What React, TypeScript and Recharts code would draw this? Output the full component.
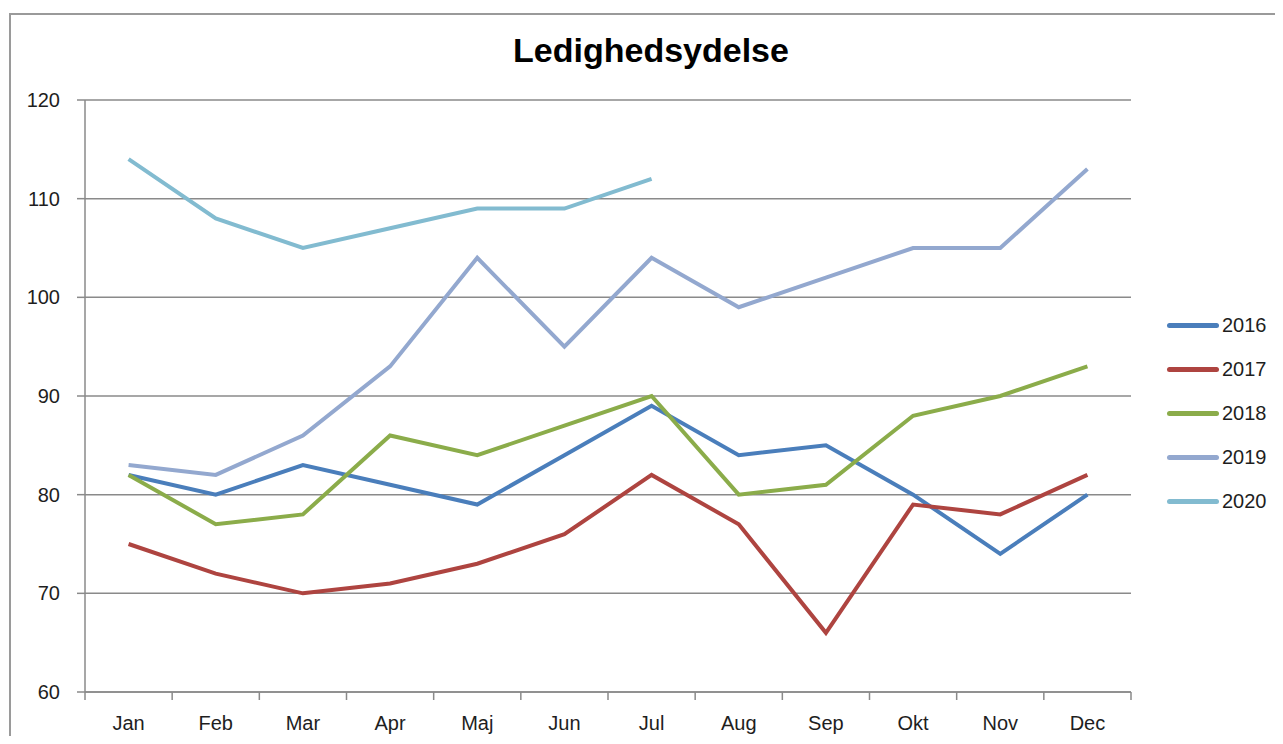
import { LineChart, Line, XAxis, YAxis, CartesianGrid } from 'recharts';

const MONTHS = ['Jan', 'Feb', 'Mar', 'Apr', 'Maj', 'Jun', 'Jul', 'Aug', 'Sep', 'Okt', 'Nov', 'Dec'];
const Y_TICKS = [60, 70, 80, 90, 100, 110, 120];

const V2016 = [82, 80, 83, 81, 79, 84, 89, 84, 85, 80, 74, 80];
const V2017 = [75, 72, 70, 71, 73, 76, 82, 77, 66, 79, 78, 82];
const V2018 = [82, 77, 78, 86, 84, 87, 90, 80, 81, 88, 90, 93];
const V2019 = [83, 82, 86, 93, 104, 95, 104, 99, 102, 105, 105, 113];
const V2020 = [114, 108, 105, 107, 109, 109, 112];

const SERIES = [
  { key: '2016', values: V2016, color: '#4A7EBB' },
  { key: '2017', values: V2017, color: '#AE4440' },
  { key: '2018', values: V2018, color: '#8BAC4A' },
  { key: '2019', values: V2019, color: '#93A8CF' },
  { key: '2020', values: V2020, color: '#82BBD0' },
];

const chartData = MONTHS.map((m, i) => {
  const row: Record<string, string | number | null> = { month: m };
  SERIES.forEach(s => {
    row[s.key] = i < s.values.length ? s.values[i] : null;
  });
  return row;
});

const W = 1267;
const H = 728;
const MARGIN = { top: 92, right: 144, left: 17, bottom: 4 };
const Y_AXIS_W = 60;
const X_AXIS_H = 40;
const PLOT_W = W - MARGIN.left - MARGIN.right - Y_AXIS_W;
const AXIS_COLOR = '#8a8a8a';
const TEXT_COLOR = '#1e1e1e';

const MonthTick = (props: any) => {
  const { x, y, payload, index, visibleTicksCount } = props;
  const half = PLOT_W / MONTHS.length / 2;
  return (
    <g>
      <line x1={x - half} y1={y} x2={x - half} y2={y + 8} stroke={AXIS_COLOR} strokeWidth={1.5} />
      {index === visibleTicksCount - 1 && (
        <line x1={x + half} y1={y} x2={x + half} y2={y + 8} stroke={AXIS_COLOR} strokeWidth={1.5} />
      )}
      <text x={x} y={y + 38} textAnchor="middle" fill={TEXT_COLOR} fontSize={20}>
        {payload.value}
      </text>
    </g>
  );
};

export default function App() {
  return (
    <div
      style={{
        position: 'relative',
        width: W,
        height: H,
        overflow: 'hidden',
        fontFamily: '"Liberation Sans", Arial, sans-serif',
        background: '#fff',
      }}
    >
      {/* chart frame, runs off the right and bottom edge */}
      <div
        style={{
          position: 'absolute',
          left: 1,
          top: 5,
          width: 1400,
          height: 900,
          border: '2px solid #9a9a9a',
          boxSizing: 'border-box',
        }}
      />
      <div
        style={{
          position: 'absolute',
          left: 0,
          top: 25,
          width: 1286,
          textAlign: 'center',
          fontSize: 34,
          lineHeight: '34px',
          fontWeight: 'bold',
          color: '#000',
        }}
      >
        Ledighedsydelse
      </div>

      <div style={{ position: 'absolute', left: 0, top: 0 }}>
        <LineChart width={W} height={H} data={chartData} margin={MARGIN}>
          <CartesianGrid vertical={false} stroke={AXIS_COLOR} strokeWidth={1.5} />
          <XAxis
            dataKey="month"
            height={X_AXIS_H}
            padding={{ left: PLOT_W / MONTHS.length / 2, right: PLOT_W / MONTHS.length / 2 }}
            axisLine={{ stroke: AXIS_COLOR, strokeWidth: 1.5 }}
            tickLine={false}
            tickSize={0}
            tickMargin={0}
            interval={0}
            tick={<MonthTick />}
          />
          <YAxis
            width={Y_AXIS_W}
            domain={[60, 120]}
            ticks={Y_TICKS}
            interval={0}
            axisLine={{ stroke: AXIS_COLOR, strokeWidth: 1.5 }}
            tickLine={{ stroke: AXIS_COLOR, strokeWidth: 1.5 }}
            tickSize={8}
            tickMargin={17}
            tick={{ fill: TEXT_COLOR, fontSize: 20 }}
          />
          {SERIES.map(s => (
            <Line
              key={s.key}
              type="linear"
              dataKey={s.key}
              stroke={s.color}
              strokeWidth={4}
              dot={false}
              activeDot={false}
              isAnimationActive={false}
            />
          ))}
        </LineChart>
      </div>

      {/* legend */}
      <div style={{ position: 'absolute', left: 1159, top: 295 }}>
        {SERIES.map(s => (
          <div key={s.key} style={{ height: 44, display: 'flex', alignItems: 'center' }}>
            <div style={{ width: 52, height: 5, borderRadius: 3, background: s.color }} />
            <span style={{ marginLeft: 3, fontSize: 20, color: TEXT_COLOR }}>{s.key}</span>
          </div>
        ))}
      </div>
    </div>
  );
}
